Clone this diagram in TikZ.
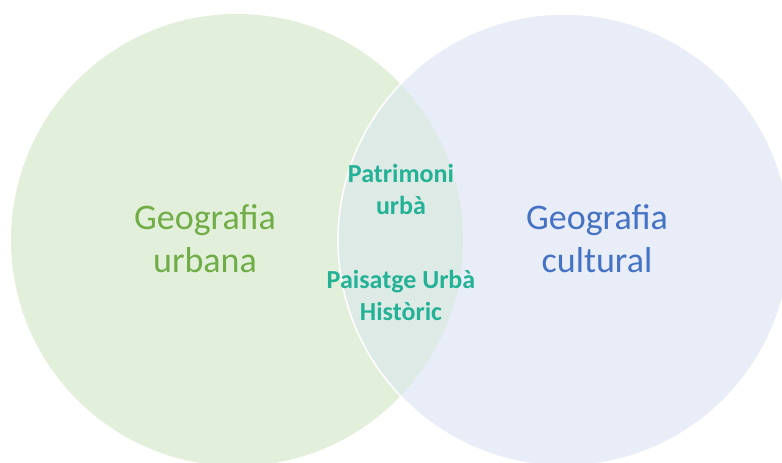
\documentclass[tikz,border=0pt]{standalone}
\usepackage{fontspec}
\setmainfont{Carlito}
\definecolor{UrbanFill}{RGB}{226, 239, 218}
\definecolor{CultFill}{RGB}{233, 237, 247}
\definecolor{MixFill}{RGB}{222, 234, 229}
\definecolor{UrbanText}{RGB}{112, 173, 71}
\definecolor{CultText}{RGB}{68, 114, 196}
\definecolor{MixText}{RGB}{35, 178, 150}
\usetikzlibrary{positioning}

\begin{document}
\begin{tikzpicture}[x=1pt, y=-1pt,
        disc/.style={circle, minimum size=452pt, inner sep=0pt},
        bigtext/.style={align=center, anchor=base, font=\fontsize{36}{43}\selectfont},
        midtext/.style={align=center, anchor=base, font=\fontsize{26}{32}\selectfont\bfseries, text=MixText}]

        \useasboundingbox (0,0) rectangle (782,463);

        % Circles
        \node[disc, fill=UrbanFill] (urb) at (237,240) {};
        \node[disc, fill=CultFill] (cult) at (564,240) {};

        % Overlap
        \begin{scope}
            \clip (237,240) circle (226pt);
            \fill[MixFill] (564,240) circle (226pt);
        \end{scope}
        \node[disc, draw=white, line width=1.5pt] (cultrim) at (cult) {};

        % Labels
        \node[bigtext, text=UrbanText] (urbtxt) at (205,272) {Geografia\\urbana};
        \node[bigtext, text=CultText] (culttxt) at (597,272) {Geografia\\cultural};
        \node[midtext] (mixtxt) at (401,320) {Patrimoni\\urbà\\[42pt]Paisatge Urbà\\Històric};

    \end{tikzpicture}
\end{document}
